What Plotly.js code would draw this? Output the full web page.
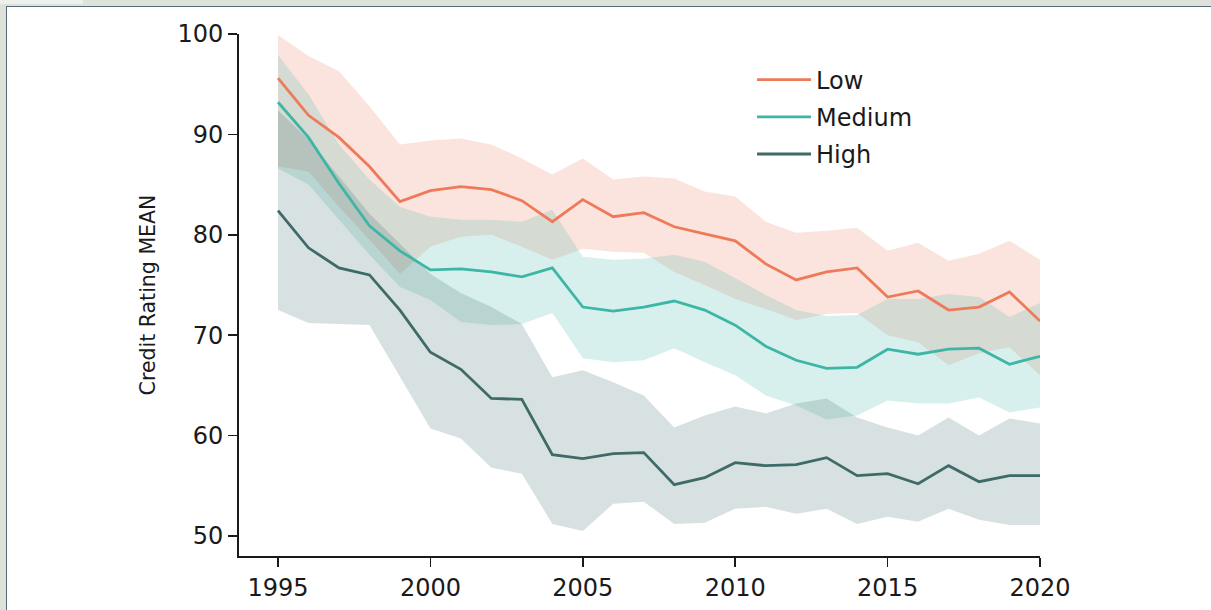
<!DOCTYPE html>
<html>
<head>
<meta charset="utf-8">
<script src="https://cdn.plot.ly/plotly-3.0.1.min.js"></script>
<style>
  html, body { margin: 0; padding: 0; width: 1211px; height: 610px; overflow: hidden; background: #dee2db; }
  #frame { position: absolute; left: 6px; top: 6px; width: 1205px; height: 604px; background: #ffffff;
           border-left: 1.5px solid #56697c; border-top: 1.5px solid #56697c; box-sizing: border-box; }
  #strip { position: absolute; left: 0; top: 0; width: 83px; height: 4px; background: #eef0ec; }
  #chart { position: absolute; left: 0; top: 0; width: 1211px; height: 610px; }
</style>
</head>
<body>
<div id="strip"></div>
<div id="frame"></div>
<div id="chart"></div>
<script>
const years = [1995, 1996, 1997, 1998, 1999, 2000, 2001, 2002, 2003, 2004, 2005, 2006, 2007,
               2008, 2009, 2010, 2011, 2012, 2013, 2014, 2015, 2016, 2017, 2018, 2019, 2020];

const lowMean  = [95.6, 91.9, 89.7, 86.8, 83.3, 84.4, 84.8, 84.5, 83.4, 81.3, 83.5, 81.8, 82.2,
                  80.8, 80.1, 79.4, 77.1, 75.5, 76.3, 76.7, 73.8, 74.4, 72.5, 72.8, 74.3, 71.4];
const lowUpper = [99.9, 97.8, 96.3, 92.8, 89.0, 89.4, 89.6, 89.0, 87.6, 86.0, 87.6, 85.5, 85.8,
                  85.6, 84.3, 83.8, 81.3, 80.2, 80.4, 80.7, 78.4, 79.2, 77.4, 78.1, 79.4, 77.5];
const lowLower = [86.8, 86.3, 82.8, 79.5, 76.1, 78.8, 79.8, 80.0, 78.8, 77.5, 78.6, 78.3, 78.2,
                  76.3, 75.0, 73.6, 72.6, 71.5, 72.1, 72.2, 70.0, 69.3, 67.0, 68.2, 68.8, 66.0];

const medMean  = [93.2, 89.7, 85.1, 80.9, 78.4, 76.5, 76.6, 76.3, 75.8, 76.7, 72.8, 72.4, 72.8,
                  73.4, 72.5, 71.0, 68.9, 67.5, 66.7, 66.8, 68.6, 68.1, 68.6, 68.7, 67.1, 67.9];
const medUpper = [97.9, 94.0, 89.0, 85.5, 82.8, 81.8, 81.5, 81.5, 81.3, 82.5, 77.8, 77.5, 77.6,
                  78.0, 77.3, 75.7, 74.0, 72.5, 71.9, 72.0, 73.6, 73.6, 74.1, 73.8, 71.8, 73.2];
const medLower = [86.6, 85.0, 81.5, 78.0, 74.8, 73.5, 71.3, 71.0, 71.1, 72.2, 67.7, 67.3, 67.5,
                  68.7, 67.3, 66.0, 64.0, 63.0, 61.6, 62.0, 63.5, 63.2, 63.2, 63.8, 62.3, 62.8];

const highMean  = [82.4, 78.7, 76.7, 76.0, 72.5, 68.3, 66.6, 63.7, 63.6, 58.1, 57.7, 58.2, 58.3,
                   55.1, 55.8, 57.3, 57.0, 57.1, 57.8, 56.0, 56.2, 55.2, 57.0, 55.4, 56.0, 56.0];
const highUpper = [92.4, 89.5, 85.8, 82.1, 79.1, 76.1, 74.2, 72.8, 71.1, 65.8, 66.5, 65.3, 64.0,
                   60.8, 62.0, 62.9, 62.2, 63.2, 63.7, 61.8, 60.8, 60.0, 61.8, 60.0, 61.7, 61.2];
const highLower = [72.5, 71.2, 71.1, 71.0, 65.8, 60.7, 59.7, 56.8, 56.2, 51.2, 50.5, 53.2, 53.4,
                   51.2, 51.3, 52.7, 52.9, 52.2, 52.7, 51.2, 51.9, 51.4, 52.7, 51.6, 51.1, 51.1];

const seriesNames = ["Low", "Medium", "High"];
const xTicks = [1995, 2000, 2005, 2010, 2015, 2020];
const yTicks = [50, 60, 70, 80, 90, 100];

const colors = ["rgb(238,122,90)", "rgb(62,182,166)", "rgb(62,106,104)"];
const fills  = ["rgba(238,122,90,0.2)", "rgba(62,182,166,0.2)", "rgba(62,106,104,0.2)"];

const means  = [lowMean, medMean, highMean];
const uppers = [lowUpper, medUpper, highUpper];
const lowers = [lowLower, medLower, highLower];

const traces = [];
// confidence bands
for (let i = 0; i < 3; i++) {
  traces.push({
    type: "scatter", mode: "lines",
    x: years.concat(years.slice().reverse()),
    y: uppers[i].concat(lowers[i].slice().reverse()),
    fill: "toself", fillcolor: fills[i],
    line: { width: 0 }, hoverinfo: "skip", showlegend: false
  });
}
// mean lines
for (let i = 0; i < 3; i++) {
  traces.push({
    type: "scatter", mode: "lines", name: seriesNames[i],
    x: years, y: means[i],
    line: { color: colors[i], width: 2.8 },
    legendgroup: seriesNames[i]
  });
}

const font = { family: "DejaVu Sans, sans-serif", size: 24, color: "#1a1a1a" };

const layout = {
  width: 1211, height: 610,
  paper_bgcolor: "rgba(0,0,0,0)", plot_bgcolor: "rgba(0,0,0,0)",
  margin: { l: 239, r: 171, t: 34, b: 54 },
  font: font,
  showlegend: true,
  legend: {
    x: 0.6405, y: 0.955, xanchor: "left", yanchor: "top",
    bgcolor: "rgba(0,0,0,0)", borderwidth: 0,
    font: font, itemwidth: 54,
    traceorder: "grouped", tracegroupgap: 3
  },
  xaxis: {
    range: [1993.72, 2020], tickvals: xTicks, ticktext: xTicks.map(String),
    ticks: "outside", ticklen: 9, tickwidth: 1.6, tickcolor: "#1a1a1a",
    showline: true, linecolor: "#1a1a1a", linewidth: 2,
    showgrid: false, zeroline: false, ticklabelstandoff: 0,
    tickfont: font
  },
  yaxis: {
    range: [48, 100], tickvals: yTicks, ticktext: yTicks.map(String),
    ticks: "outside", ticklen: 9, tickwidth: 1.6, tickcolor: "#1a1a1a",
    showline: true, linecolor: "#1a1a1a", linewidth: 2,
    showgrid: false, zeroline: false,
    tickfont: font,
    title: { text: "Credit Rating MEAN", font: { family: "DejaVu Sans, sans-serif", size: 20.5, color: "#1a1a1a" }, standoff: 16 }
  }
};

Plotly.newPlot("chart", traces, layout, { displayModeBar: false, staticPlot: true });
</script>
</body>
</html>
